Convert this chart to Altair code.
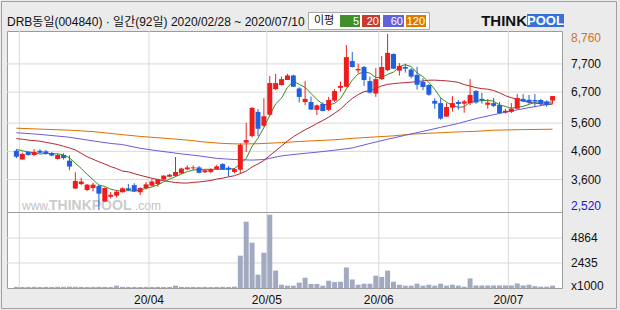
import altair as alt
import pandas as pd

# ---------------- data ----------------
opens = [4620, 4310, 4580, 4470, 4620, 4600, 4540, 4330, 4470, 4270,
         3280, 3440, 3230, 3300, 3370, 2820, 2990, 3030, 3150, 3290,
         3400, 3150, 3300, 3380, 3440, 3600, 3700, 3730, 3820, 3960,
         4000, 4030, 3860, 3870, 3970, 4150, 4020, 3870, 3950, 4910,
         5140, 6000, 5510, 5900, 6810, 6950, 7130, 7290, 6830, 6350,
         6350, 6070, 6280, 6070, 6400, 6850, 6890, 7800, 7470, 7590,
         7090, 6650, 7160, 7480, 8050, 7460, 7590, 7500, 7310, 7060,
         6950, 6390, 6310, 5830, 6150, 6350, 6290, 6310, 6740, 6460,
         6250, 6310, 6240, 5980, 6000, 6110, 6460, 6430, 6420, 6420,
         6370, 6400]
highs = [4670, 4550, 4600, 4680, 4680, 4650, 4580, 4510, 4530, 4460,
         3860, 3660, 3440, 3490, 3420, 3320, 3160, 3230, 3320, 3440,
         3470, 3320, 3510, 3610, 3630, 3750, 3800, 4400, 4020, 4100,
         4100, 4080, 3950, 4000, 4120, 4180, 4070, 4010, 4880, 5610,
         6170, 6100, 6480, 7270, 7350, 7250, 7350, 7320, 6870, 7090,
         6540, 6260, 6340, 6530, 6810, 7070, 8370, 8120, 7710, 7630,
         7250, 7550, 7980, 8760, 8070, 7730, 7710, 7550, 7600, 7190,
         6980, 6480, 6480, 6310, 6560, 6420, 6420, 7160, 6770, 6670,
         6460, 6490, 6350, 6110, 6310, 6630, 6630, 6600, 6630, 6460,
         6410, 6560]
lows = [4360, 4310, 4440, 4440, 4530, 4480, 4420, 4310, 4310, 3930,
        3280, 3400, 3190, 3180, 2520, 2820, 2930, 2970, 3140, 3190,
        3160, 3050, 3250, 3350, 3350, 3580, 3680, 3700, 3800, 3940,
        3940, 3820, 3830, 3820, 3950, 3960, 3710, 3820, 3820, 4580,
        5090, 5140, 5460, 5850, 6770, 6930, 7130, 6890, 6330, 6240,
        6070, 5890, 6020, 6030, 6350, 6720, 6870, 7570, 7370, 6920,
        6650, 6530, 7130, 7440, 7520, 7290, 7390, 7190, 6790, 6770,
        6570, 6110, 5720, 5820, 6010, 6080, 5970, 6240, 6290, 6290,
        6110, 6170, 5940, 5940, 5960, 6100, 6350, 6280, 6170, 6220,
        6180, 6290]
closes = [4410, 4510, 4470, 4580, 4550, 4520, 4450, 4470, 4360, 4060,
          3550, 3530, 3420, 3420, 3100, 3300, 3060, 3170, 3290, 3230,
          3180, 3300, 3430, 3530, 3610, 3740, 3770, 3870, 3990, 4030,
          4030, 3840, 3930, 3970, 4070, 3970, 3950, 3970, 4830, 5000,
          6140, 5400, 5840, 7020, 7020, 7160, 7290, 6890, 6530, 6460,
          6080, 6230, 6030, 6420, 6740, 6920, 7940, 7590, 7520, 7130,
          6680, 7160, 7590, 8090, 7530, 7630, 7530, 7250, 6960, 6880,
          6610, 6290, 5760, 6170, 6310, 6280, 6370, 6600, 6330, 6410,
          6330, 6210, 5960, 6040, 6110, 6490, 6370, 6330, 6370, 6280,
          6250, 6560]
volumes = [110, 100, 110, 120, 100, 110, 100, 120, 110, 130,
           120, 110, 100, 110, 120, 110, 100, 230, 110, 100,
           110, 100, 110, 100, 110, 100, 110, 230, 110, 100,
           110, 100, 110, 100, 110, 120, 100, 130, 3150, 6460,
           4410, 1300, 3440, 7140, 1690, 320, 230, 230, 520, 1000,
           390, 390, 230, 710, 580, 610, 2000, 830, 320, 420,
           420, 1200, 1080, 1690, 610, 320, 230, 230, 420, 230,
           320, 230, 420, 230, 320, 230, 130, 930, 250, 250,
           250, 250, 250, 250, 250, 440, 250, 320, 180, 130,
           130, 230]
ma5_head = [4670, 4620, 4580, 4550]
ma20_head = [5050, 5030, 5000, 4980, 4960, 4920, 4880, 4840, 4780, 4720,
             4650, 4530, 4410, 4320, 4230, 4150, 4060, 3990, 3900]
ma60_idx = [0, 4, 9, 13, 16, 18, 21, 24, 28, 31, 34, 37, 40, 42, 45,
            48, 51, 54, 57, 60, 63, 66, 69, 72, 75, 78, 81, 84, 87, 91]
ma60_val = [5260, 5200, 5100, 4970, 4880, 4840, 4710, 4620, 4510, 4440,
            4350, 4310, 4290, 4310, 4440, 4510, 4570, 4640, 4720, 4880,
            5030, 5170, 5310, 5450, 5590, 5760, 5900, 6030, 6150, 6290]
ma120_idx = [0, 5, 9, 13, 18, 21, 26, 29, 32, 35, 38, 41, 45, 48, 51,
             54, 57, 60, 64, 67, 70, 75, 78, 81, 86, 91]
ma120_val = [5420, 5380, 5350, 5300, 5190, 5130, 5050, 5000, 4930, 4880,
             4860, 4870, 4910, 4950, 4980, 5010, 5060, 5100, 5150, 5210,
             5240, 5290, 5310, 5350, 5370, 5385]
price_ticks = [7700, 6700, 5600, 4600, 3600]
volume_ticks = [2435, 4864]
month_pos = [0.5, 22.5, 42.5, 61.5, 83.5]
month_labels = ["", "20/04", "20/05", "20/06", "20/07"]
title_text = "DRB동일(004840) · 일간(92일) 2020/02/28 ~ 2020/07/10"
legend_names = ["5", "20", "60", "120"]

# ---------------- styles ----------------
UP, DOWN = "#ee1d1d", "#1f5fe0"
C5, C20, C60, C120 = "#3c8c1c", "#b4282c", "#6b5bdc", "#dc7000"
LEG = ["#3f8f2a", "#c83a2e", "#6262de", "#dd7a00"]
VOL = "#a2aac2"
GRID = "#d9d9d9"
FRAME = "#9c9c9c"
LAT = "Liberation Sans"
KR = "Liberation Sans, Noto Sans CJK KR"

W, H, HP = 555, 257, 181

n = len(closes)
df = pd.DataFrame({
    "i": list(range(n)), "open": opens, "high": highs, "low": lows,
    "close": closes, "volume": volumes,
})
df["dir"] = ["up" if c >= o else "down" for o, c in zip(opens, closes)]
df["ma5_head"] = ma5_head + [None] * (n - len(ma5_head))
df["ma20_head"] = ma20_head + [None] * (n - len(ma20_head))

xscale = alt.Scale(domain=[-0.75, 91.75], nice=False, zero=False)
pscale = alt.Scale(domain=[2450, 8866], range=[HP, 0], nice=False, zero=False)
vscale = alt.Scale(domain=[0, 7402], range=[H, HP], nice=False, zero=False)
X = alt.X("i:Q", scale=xscale, axis=None)


def PY(f):
    return alt.Y(f"{f}:Q", scale=pscale, axis=None)


cdir = alt.Color("dir:N", scale=alt.Scale(domain=["up", "down"], range=[UP, DOWN]), legend=None)
base = alt.Chart(df)
one = pd.DataFrame({"a": [0]})

layers = []
# watermark
wm = alt.Chart(one)
layers += [
    wm.mark_text(align="left", baseline="alphabetic", fontSize=12, font=LAT, color="#c4c4c4").encode(
        x=alt.value(15), y=alt.value(179), text=alt.value("www.")),
    wm.mark_text(align="left", baseline="alphabetic", fontSize=14, font=LAT, fontWeight="bold", color="#cbcbcb").encode(
        x=alt.value(42), y=alt.value(179), text=alt.value("THINKPOOL")),
    wm.mark_text(align="left", baseline="alphabetic", fontSize=12, font=LAT, color="#c4c4c4").encode(
        x=alt.value(128), y=alt.value(179), text=alt.value(".com")),
]
# grid
layers += [
    alt.Chart(pd.DataFrame({"v": price_ticks})).mark_rule(color=GRID).encode(y=PY("v")),
    alt.Chart(pd.DataFrame({"v": volume_ticks})).mark_rule(color=GRID).encode(
        y=alt.Y("v:Q", scale=vscale, axis=None)),
    alt.Chart(pd.DataFrame({"m": month_pos, "label": month_labels})).mark_rule(color=GRID).encode(
        x=alt.X("m:Q", scale=xscale, axis=None)),
    alt.Chart(one).mark_rule(color=FRAME).encode(
        x=alt.value(0), x2=alt.value(W), y=alt.value(HP + 0.5)),
]
# volume
layers.append(base.mark_bar(size=5, color=VOL).encode(x=X, y=alt.Y("volume:Q", scale=vscale, axis=None)))
# moving averages
ma = base.transform_window(
    ma5c="mean(close)", frame=[-4, 0], sort=[alt.SortField("i")]
).transform_window(
    ma20c="mean(close)", frame=[-19, 0], sort=[alt.SortField("i")]
).transform_calculate(
    ma5=f"datum.i < {len(ma5_head)} ? datum.ma5_head : datum.ma5c",
    ma20=f"datum.i < {len(ma20_head)} ? datum.ma20_head : datum.ma20c",
)
layers += [
    alt.Chart(pd.DataFrame({"i": ma120_idx, "v": ma120_val})).mark_line(color=C120, strokeWidth=1).encode(x=X, y=PY("v")),
    alt.Chart(pd.DataFrame({"i": ma60_idx, "v": ma60_val})).mark_line(color=C60, strokeWidth=1).encode(x=X, y=PY("v")),
    ma.mark_line(color=C20, strokeWidth=1).encode(x=X, y=PY("ma20")),
    ma.mark_line(color=C5, strokeWidth=1).encode(x=X, y=PY("ma5")),
]
# candles
layers += [
    base.mark_rule(strokeWidth=1).encode(x=X, y=PY("low"), y2="high:Q", color=cdir),
    base.mark_bar(size=5).encode(x=X, y=PY("open"), y2="close:Q", color=cdir),
]
# right labels
layers += [
    alt.Chart(pd.DataFrame({"v": price_ticks})).mark_text(
        align="left", baseline="middle", fontSize=12, font=LAT, color="#111111").encode(
        x=alt.value(W + 9), y=PY("v"), text=alt.Text("v:Q", format=",")),
    alt.Chart(pd.DataFrame({"v": [max(highs)]})).mark_text(
        align="left", baseline="middle", fontSize=12, font=LAT, color="#d0742a", dy=4).encode(
        x=alt.value(W + 9), y=PY("v"), text=alt.Text("v:Q", format=",")),
    alt.Chart(pd.DataFrame({"v": [min(lows)]})).mark_text(
        align="left", baseline="middle", fontSize=12, font=LAT, color="#1a1ad0", dy=-4).encode(
        x=alt.value(W + 9), y=PY("v"), text=alt.Text("v:Q", format=",")),
    alt.Chart(pd.DataFrame({"v": volume_ticks})).mark_text(
        align="left", baseline="middle", fontSize=12, font=LAT, color="#111111").encode(
        x=alt.value(W + 9), y=alt.Y("v:Q", scale=vscale, axis=None), text=alt.Text("v:Q", format="d")),
    alt.Chart(one).mark_text(align="left", baseline="middle", fontSize=12, font=LAT, color="#111111").encode(
        x=alt.value(W + 9), y=alt.value(H - 2), text=alt.value("x1000")),
    alt.Chart(pd.DataFrame({"m": month_pos, "label": month_labels})).mark_text(
        baseline="middle", fontSize=12, font=LAT, color="#111111").encode(
        x=alt.X("m:Q", scale=xscale, axis=None), y=alt.value(H + 12), text="label:N"),
]
# header
hd = alt.Chart(one)
layers += [
    hd.mark_text(align="left", baseline="middle", fontSize=12, font=KR, color="#111111").encode(
        x=alt.value(0), y=alt.value(-9), text=alt.value(title_text)),
    hd.mark_rect(fill="white", stroke="#a8a8a8", strokeWidth=1).encode(
        x=alt.value(301.5), x2=alt.value(422.5), y=alt.value(-18.5), y2=alt.value(-1.5)),
    hd.mark_text(align="left", baseline="middle", fontSize=11, font=KR, color="#111111").encode(
        x=alt.value(307), y=alt.value(-10), text=alt.value("이평")),
]
box_x = [(333, 353), (355, 373), (376, 397), (399, 419)]
for (bx0, bx1), name, colr in zip(box_x, legend_names, LEG):
    layers += [
        hd.mark_rect(color=colr).encode(x=alt.value(bx0), x2=alt.value(bx1), y=alt.value(-16), y2=alt.value(-4)),
        hd.mark_text(align="right", baseline="middle", fontSize=11, font=LAT, color="white").encode(
            x=alt.value(bx1 - 1), y=alt.value(-9.5), text=alt.value(name)),
    ]
layers += [
    hd.mark_text(align="right", baseline="middle", fontSize=15, font=LAT, fontWeight="bold", color="#111111").encode(
        x=alt.value(520), y=alt.value(-10), text=alt.value("THINK")),
    hd.mark_rect(color="#3a6fd8").encode(x=alt.value(520), x2=alt.value(557), y=alt.value(-17), y2=alt.value(-4)),
    hd.mark_text(align="center", baseline="middle", fontSize=13, font=LAT, fontWeight="bold", color="white").encode(
        x=alt.value(538.5), y=alt.value(-10), text=alt.value("POOL")),
    hd.mark_rect(fillOpacity=0, stroke="#a0a0a0", strokeWidth=1).encode(
        x=alt.value(-5.5), x2=alt.value(609.5), y=alt.value(-29.5), y2=alt.value(277.5)),
]

chart = alt.layer(*layers).resolve_scale(y="independent").properties(
    width=W, height=H,
    padding={"left": 7, "top": 31, "right": 58, "bottom": 22},
    autosize=alt.AutoSizeParams(type="none"),
    background="#ebebeb",
).configure_view(fill="white", stroke=FRAME, strokeWidth=1)

chart.save("out.html", embed_options={"renderer": "svg", "actions": False})
